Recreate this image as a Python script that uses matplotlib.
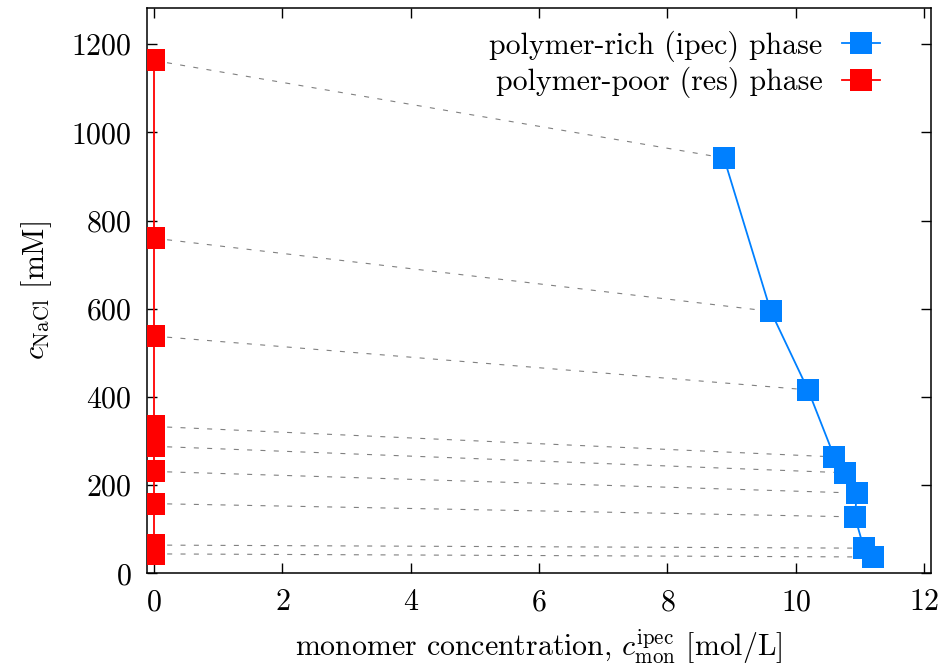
import numpy as np
import matplotlib
matplotlib.use("Agg")
import matplotlib.pyplot as plt

plt.rcParams['font.family'] = 'cmr10'
plt.rcParams['mathtext.fontset'] = 'cm'
plt.rcParams['axes.unicode_minus'] = False
plt.rcParams['axes.formatter.use_mathtext'] = True

# coexisting phases: reservoir (polymer-poor) and ipec (polymer-rich)
res_conc = [0.0, 0.0, 0.0, 0.0, 0.0, 0.0, 0.0, 0.0, 0.0]
res_salt = [1163, 760, 538, 333, 288, 231, 158, 64, 44]
ipec_conc = [8.88, 9.61, 10.19, 10.60, 10.76, 10.95, 10.92, 11.06, 11.20]
ipec_salt = [942, 594, 416, 264, 228, 182, 128, 57, 37]

blue = '#0080ff'
red = '#ff0000'
fs = 21.5

fig = plt.figure(figsize=(9.41, 6.71), dpi=100)
ax = fig.add_axes([0.156, 0.1456, 0.833, 0.8425])

# tie lines between the two phases
for xr, yr, xi, yi in zip(res_conc, res_salt, ipec_conc, ipec_salt):
    ax.plot([xr, xi], [yr, yi], color='#808080', lw=0.8,
            dashes=(4.5, 7.5), zorder=1)

ax.plot(ipec_conc, ipec_salt, color=blue, lw=1.3, marker='s', ms=15.8,
        mew=0, label='polymer-rich (ipec) phase', zorder=3)
ax.plot(res_conc, res_salt, color=red, lw=1.3, marker='s', ms=15.8,
        mew=0, label='polymer-poor (res) phase', zorder=3)

ax.set_xlim(-0.11, 12.1)
ax.set_ylim(0, 1282)
ax.set_xticks(np.arange(0, 13, 2))
ax.set_yticks(np.arange(0, 1201, 200))
ax.tick_params(direction='in', top=True, right=True, length=7, width=1,
               labelsize=fs, pad=11)
for s in ax.spines.values():
    s.set_linewidth(1.1)

ax.set_xlabel(r'monomer concentration, $c_{\mathrm{mon}}^{\mathrm{ipec}}$ [mol/L]',
              fontsize=fs, labelpad=8)
ax.set_ylabel(r'$c_{\mathrm{NaCl}}$ [mM]', fontsize=fs, labelpad=12)

ax.legend(loc='upper right', bbox_to_anchor=(0.936, 0.96), frameon=False,
          markerfirst=False, fontsize=fs, handlelength=1.3, handletextpad=0.64,
          labelspacing=0.17, borderaxespad=0, borderpad=0)

fig.savefig('out.png', dpi=100)
